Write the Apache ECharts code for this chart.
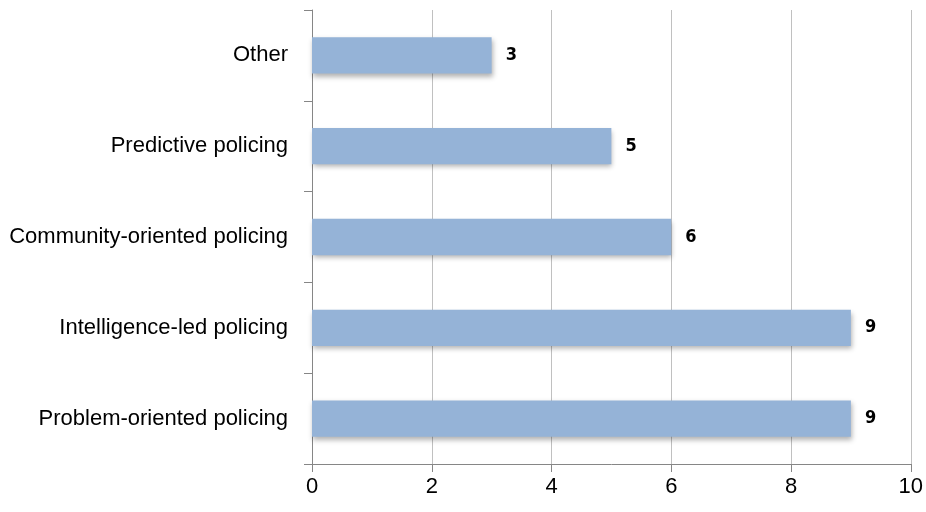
<!DOCTYPE html>
<html>
<head>
<meta charset="utf-8">
<script src="https://cdn.jsdelivr.net/npm/echarts@6/dist/echarts.min.js"></script>
<style>
  html, body { margin: 0; padding: 0; background: #fff; }
  #chart { width: 926px; height: 512px; }
</style>
</head>
<body>
<div id="chart"></div>
<script>
// categories, bottom to top
var categories = [
  'Problem-oriented policing',
  'Intelligence-led policing',
  'Community-oriented policing',
  'Predictive policing',
  'Other'
]
var counts = [9, 9, 6, 5, 3]
var xTicks = [0, 2, 4, 6, 8, 10]

var fontFamily = "'Liberation Sans Narrow', 'Arial Narrow', 'Liberation Sans', sans-serif"

var chart = echarts.init(document.getElementById('chart'))
chart.setOption({
  animation: false,
  grid: { left: 312, right: 14, top: 10, bottom: 48 },
  xAxis: {
    type: 'value',
    min: xTicks[0],
    max: xTicks[xTicks.length - 1],
    interval: 2,
    axisLine: { show: true, lineStyle: { color: '#868686', width: 1 } },
    axisTick: { show: true, length: 8, lineStyle: { color: '#868686' } },
    axisLabel: { color: '#000', fontSize: 22, fontFamily: fontFamily, margin: 12 },
    splitLine: { show: true, lineStyle: { color: '#c0c0c0', width: 1 } }
  },
  yAxis: {
    type: 'category',
    data: categories,
    axisLine: { show: true, lineStyle: { color: '#868686', width: 1 } },
    axisTick: { show: true, length: 8, lineStyle: { color: '#868686' } },
    axisLabel: { color: '#000', fontSize: 22, fontFamily: fontFamily, margin: 24 }
  },
  series: [{
    type: 'bar',
    data: counts,
    barWidth: '40%',
    itemStyle: {
      color: '#95b3d7',
      shadowColor: 'rgba(0,0,0,0.3)',
      shadowBlur: 5,
      shadowOffsetX: 1,
      shadowOffsetY: 3
    },
    label: {
      show: true,
      position: 'right',
      distance: 14,
      color: '#000',
      fontWeight: 'bold',
      fontSize: 18,
      fontFamily: "'DejaVu Sans Condensed', 'Liberation Sans Narrow', sans-serif"
    }
  }]
})
</script>
</body>
</html>
